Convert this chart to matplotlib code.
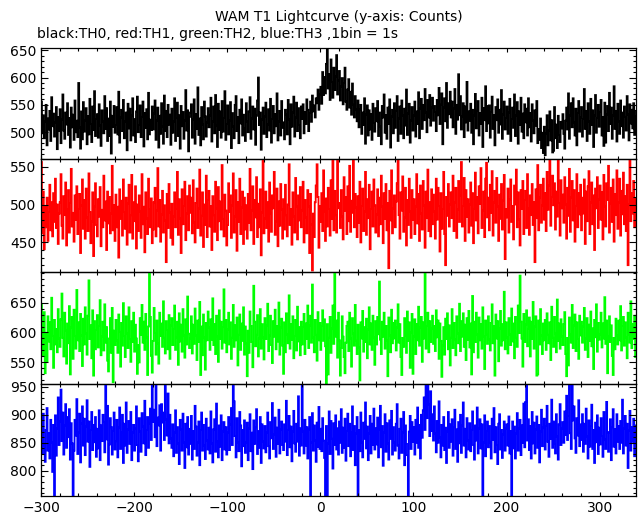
import matplotlib
matplotlib.use("Agg")
import matplotlib.pyplot as plt
import numpy as np
from matplotlib.ticker import MultipleLocator

# WAM T1 light curves, 1 s bins starting at t = -300 s
t_start = -300

th0 = np.array([
    556, 498, 531, 489, 520, 550, 476, 525, 505, 539, 484, 564, 511, 534, 492, 518, 546, 469, 528, 502,
    542, 480, 523, 569, 503, 488, 536, 514, 553, 495, 526, 472, 545, 509, 532, 486, 558, 500, 521, 491,
    590, 508, 470, 538, 487, 555, 501, 522, 544, 478, 529, 496, 561, 515, 482, 547, 504, 575, 493, 524,
    533, 490, 551, 512, 475, 540, 519, 498, 566, 506, 544, 484, 525, 493, 556, 461, 530, 510, 548, 499,
    513, 546, 496, 574, 481, 527, 541, 502, 559, 489, 520, 536, 467, 552, 507, 543, 485, 531, 562, 494,
    524, 482, 538, 565, 500, 513, 549, 491, 528, 556, 474, 535, 508, 542, 487, 572, 496, 523, 504, 547,
    505, 534, 558, 486, 521, 545, 472, 530, 497, 553, 510, 479, 567, 502, 539, 491, 550, 514, 532, 477,
    543, 499, 519, 562, 484, 526, 554, 493, 531, 470, 548, 511, 537, 488, 522, 577, 503, 540, 465, 528,
    536, 551, 490, 523, 560, 479, 533, 506, 582, 495, 525, 476, 546, 514, 487, 556, 529, 492, 518, 544,
    509, 531, 563, 483, 520, 547, 498, 568, 512, 473, 552, 504, 538, 490, 557, 501, 526, 575, 486, 515,
    549, 496, 522, 555, 471, 535, 510, 489, 550, 566, 502, 528, 480, 541, 516, 560, 494, 532, 507, 484,
    553, 519, 500, 538, 564, 488, 525, 547, 505, 543, 477, 530, 558, 600, 513, 536, 468, 523, 545, 497,
    529, 554, 491, 514, 542, 503, 561, 481, 524, 548, 498, 533, 511, 571, 485, 520, 539, 494, 557, 508,
    518, 487, 541, 532, 496, 559, 523, 478, 551, 510, 536, 565, 492, 527, 554, 502, 544, 513, 489, 547,
    524, 551, 498, 537, 515, 560, 541, 502, 535, 556, 519, 567, 538, 549, 527, 562, 553, 578, 541, 569,
    583, 552, 610, 568, 601, 571, 625, 652, 580, 606, 559, 633, 592, 563, 618, 577, 602, 641, 569, 595,
    612, 558, 583, 599, 551, 590, 618, 556, 541, 578, 597, 545, 574, 532, 589, 550, 527, 566, 541, 520,
    558, 509, 541, 550, 497, 536, 513, 562, 479, 532, 549, 494, 540, 505, 533, 486, 552, 517, 501, 544,
    520, 557, 493, 536, 511, 478, 548, 527, 569, 499, 531, 488, 545, 515, 560, 472, 529, 541, 498, 553,
    508, 539, 566, 484, 525, 547, 497, 558, 530, 489, 543, 512, 578, 495, 534, 552, 481, 521, 546, 503,
    531, 556, 492, 538, 515, 573, 489, 543, 561, 506, 550, 522, 579, 536, 500, 559, 527, 568, 512, 545,
    563, 521, 548, 537, 502, 559, 531, 581, 515, 550, 571, 478, 545, 562, 520, 590, 508, 553, 533, 574,
    527, 556, 509, 544, 579, 497, 550, 523, 606, 531, 566, 505, 529, 553, 491, 547, 518, 592, 503, 538,
    521, 552, 499, 541, 478, 530, 570, 507, 539, 557, 494, 535, 515, 563, 473, 544, 522, 584, 502, 548,
    516, 549, 490, 537, 565, 506, 531, 476, 546, 522, 560, 499, 541, 514, 577, 488, 533, 556, 505, 526,
    547, 497, 536, 561, 484, 524, 545, 508, 569, 493, 531, 555, 479, 538, 513, 563, 501, 534, 489, 551,
    518, 543, 494, 562, 509, 535, 483, 551, 522, 498, 540, 512, 557, 480, 506, 486, 525, 471, 499, 462,
    510, 458, 497, 531, 476, 503, 538, 485, 522, 463, 466, 546, 489, 514, 471, 530, 495, 482, 519, 507,
    533, 497, 470, 521, 545, 505, 571, 488, 530, 553, 509, 562, 518, 494, 543, 476, 535, 557, 501, 527,
    546, 492, 524, 579, 506, 539, 484, 553, 520, 497, 561, 513, 540, 473, 531, 568, 499, 526, 550, 510,
    537, 559, 494, 528, 475, 554, 481, 533, 548, 502, 572, 515, 545, 488, 530, 584, 506, 539, 483, 552,
    519, 497, 558, 511, 536, 490, 547, 528, 503, 566, 532, 485, 551, 516, 541, 507, 553, 495, 529, 538,
])

th1 = np.array([
    556, 462, 517, 441, 498, 470, 509, 452, 490, 526, 466, 503, 458, 515, 477, 534, 469, 500, 448, 488,
    503, 540, 472, 455, 511, 486, 529, 446, 493, 519, 463, 502, 547, 471, 489, 451, 512, 480, 524, 461,
    494, 514, 436, 499, 533, 468, 506, 455, 521, 483, 465, 541, 490, 449, 478, 516, 432, 497, 528, 473,
    458, 507, 484, 523, 445, 493, 470, 538, 479, 504, 440, 517, 475, 510, 462, 488, 551, 466, 499, 452,
    513, 470, 497, 430, 520, 481, 505, 459, 533, 490, 468, 509, 447, 501, 526, 463, 486, 539, 455, 503,
    478, 524, 442, 500, 465, 512, 491, 456, 540, 474, 497, 437, 516, 482, 461, 534, 494, 470, 508, 449,
    467, 503, 522, 458, 492, 548, 471, 506, 451, 487, 518, 463, 499, 479, 424, 514, 469, 527, 489, 456,
    501, 447, 484, 516, 470, 494, 543, 460, 507, 482, 436, 520, 474, 498, 530, 453, 488, 511, 466, 525,
    489, 509, 462, 532, 476, 450, 502, 521, 469, 495, 546, 459, 485, 516, 444, 500, 473, 538, 457, 506,
    518, 471, 498, 440, 511, 486, 464, 530, 495, 453, 523, 478, 504, 467, 552, 481, 458, 513, 492, 446,
    473, 528, 490, 512, 456, 499, 541, 463, 484, 519, 439, 503, 477, 534, 461, 496, 517, 448, 509, 467,
    499, 455, 514, 476, 547, 466, 492, 524, 448, 506, 483, 536, 457, 501, 470, 520, 433, 489, 558, 462,
    482, 517, 469, 503, 451, 529, 488, 464, 512, 495, 543, 460, 478, 521, 445, 504, 472, 527, 493, 455,
    507, 467, 526, 486, 458, 500, 553, 473, 494, 447, 516, 484, 463, 535, 497, 454, 512, 479, 523, 470,
    492, 530, 450, 506, 483, 462, 519, 497, 436, 514, 474, 413, 488, 457, 503, 525, 553, 510, 443, 498,
    477, 515, 465, 545, 490, 452, 508, 471, 522, 494, 459, 532, 481, 559, 466, 518, 486, 463, 558, 495,
    502, 469, 519, 484, 454, 536, 492, 510, 461, 524, 478, 551, 464, 505, 489, 558, 470, 514, 496, 457,
    511, 476, 530, 450, 498, 521, 465, 491, 543, 460, 507, 482, 526, 441, 494, 517, 471, 533, 499, 463,
    487, 520, 458, 509, 474, 538, 497, 449, 515, 481, 527, 466, 502, 416, 518, 479, 545, 462, 495, 512,
    470, 504, 528, 558, 486, 455, 516, 492, 537, 464, 483, 522, 446, 506, 473, 534, 491, 456, 519, 480,
    507, 461, 497, 540, 475, 514, 452, 525, 488, 467, 531, 499, 443, 517, 482, 546, 465, 503, 458, 520,
    474, 513, 491, 455, 534, 480, 522, 498, 438, 515, 468, 494, 543, 461, 420, 510, 485, 527, 471, 500,
    516, 482, 538, 465, 503, 522, 456, 493, 531, 477, 512, 556, 471, 498, 535, 452, 519, 484, 507, 463,
    500, 529, 472, 515, 449, 494, 542, 479, 510, 462, 524, 501, 548, 469, 492, 517, 457, 534, 555, 483,
    509, 466, 526, 489, 544, 459, 503, 518, 476, 535, 497, 452, 513, 481, 527, 467, 505, 539, 428, 494,
    483, 521, 463, 507, 533, 477, 498, 454, 525, 500, 546, 470, 516, 480, 446, 519, 494, 531, 461, 506,
    518, 469, 540, 495, 460, 512, 486, 527, 473, 503, 424, 520, 482, 552, 466, 509, 526, 476, 499, 534,
    480, 515, 465, 543, 493, 525, 560, 472, 510, 538, 499, 528, 467, 517, 484, 558, 502, 459, 532, 495,
    513, 476, 536, 500, 455, 522, 485, 547, 464, 509, 531, 479, 519, 451, 498, 540, 470, 515, 487, 526,
    466, 509, 488, 533, 448, 517, 478, 524, 544, 461, 503, 529, 474, 512, 440, 521, 495, 536, 469, 507,
    525, 480, 516, 454, 539, 497, 471, 528, 506, 551, 463, 501, 522, 477, 533, 451, 514, 486, 545, 468,
    503, 534, 459, 518, 487, 542, 474, 511, 465, 526, 420, 500, 560, 478, 515, 488, 531, 470, 508, 484,
])

th2 = np.array([
    646, 608, 561, 634, 532, 599, 552, 627, 585, 617, 572, 658, 594, 541, 621, 580, 606, 567, 639, 590,
    576, 622, 665, 591, 560, 633, 603, 548, 615, 582, 644, 530, 608, 626, 556, 638, 594, 573, 671, 587,
    617, 569, 631, 595, 544, 623, 580, 642, 598, 563, 628, 687, 589, 612, 557, 637, 528, 619, 572, 604,
    629, 575, 611, 654, 562, 593, 618, 570, 647, 583, 609, 553, 535, 590, 624, 566, 641, 517, 603, 579,
    621, 587, 566, 630, 601, 543, 616, 578, 649, 594, 559, 627, 598, 574, 642, 589, 551, 619, 584, 633,
    568, 613, 590, 531, 579, 550, 624, 596, 646, 583, 618, 571, 631, 592, 529, 610, 700, 626, 561, 533,
    586, 641, 599, 563, 620, 582, 548, 633, 594, 615, 576, 652, 591, 565, 619, 604, 572, 629, 556, 612,
    624, 579, 606, 645, 571, 592, 618, 546, 632, 585, 613, 568, 639, 595, 558, 622, 580, 660, 598, 574,
    590, 627, 565, 613, 581, 640, 595, 554, 620, 584, 651, 529, 610, 562, 630, 592, 538, 616, 587, 635,
    608, 571, 622, 588, 657, 579, 614, 564, 628, 593, 551, 637, 589, 618, 573, 609, 672, 583, 621, 567,
    605, 633, 580, 617, 556, 591, 646, 576, 612, 587, 625, 545, 596, 630, 571, 615, 586, 642, 563, 610,
    582, 527, 603, 566, 635, 611, 584, 542, 678, 618, 577, 596, 629, 560, 590, 639, 573, 614, 592, 555,
    624, 589, 612, 648, 569, 595, 628, 579, 549, 619, 593, 638, 572, 611, 585, 650, 563, 608, 623, 578,
    531, 617, 567, 632, 597, 582, 662, 573, 614, 588, 627, 557, 594, 621, 570, 643, 585, 609, 562, 618,
    580, 609, 631, 564, 615, 589, 645, 574, 612, 628, 583, 680, 592, 567, 621, 596, 553, 634, 587, 616,
    571, 611, 637, 586, 622, 577, 515, 614, 530, 591, 626, 566, 607, 645, 581, 700, 593, 620, 558, 633,
    587, 528, 574, 627, 593, 559, 532, 583, 611, 618, 569, 633, 590, 543, 624, 598, 578, 646, 586, 564,
    613, 575, 520, 617, 590, 636, 568, 609, 584, 623, 557, 605, 642, 580, 615, 571, 628, 592, 546, 619,
    580, 626, 597, 685, 588, 564, 618, 593, 633, 573, 611, 587, 527, 625, 595, 567, 638, 582, 616, 590,
    620, 570, 608, 647, 583, 614, 559, 529, 591, 576, 624, 595, 566, 635, 586, 617, 541, 600, 631, 531,
    593, 622, 564, 614, 587, 643, 578, 608, 626, 551, 617, 590, 698, 573, 611, 633, 567, 619, 584, 607,
    628, 581, 611, 569, 637, 592, 620, 556, 615, 586, 526, 578, 609, 563, 623, 589, 632, 572, 612, 545,
    591, 639, 574, 616, 588, 562, 627, 598, 582, 648, 569, 619, 593, 632, 576, 613, 554, 624, 588, 636,
    575, 615, 530, 661, 567, 618, 584, 633, 597, 558, 625, 587, 614, 573, 642, 593, 539, 620, 596, 581,
    627, 588, 570, 616, 647, 582, 611, 528, 630, 590, 619, 552, 607, 636, 578, 614, 587, 668, 572, 617,
    592, 565, 624, 597, 579, 640, 585, 615, 557, 626, 591, 576, 645, 599, 695, 618, 590, 543, 631, 584,
    613, 637, 577, 606, 625, 560, 618, 589, 651, 573, 610, 627, 528, 530, 620, 580, 639, 595, 564, 615,
    587, 621, 571, 632, 596, 582, 617, 554, 643, 591, 576, 626, 598, 567, 655, 586, 615, 573, 622, 593,
    579, 614, 634, 564, 527, 591, 545, 625, 597, 583, 646, 574, 612, 630, 569, 617, 589, 556, 628, 595,
    618, 583, 610, 641, 571, 590, 624, 559, 613, 586, 635, 577, 607, 539, 621, 592, 647, 568, 616, 588,
    597, 633, 575, 615, 590, 659, 581, 620, 532, 594, 627, 584, 612, 561, 529, 591, 572, 623, 595, 580,
    620, 587, 644, 570, 611, 626, 578, 617, 592, 557, 633, 596, 583, 652, 574, 614, 589, 628, 559, 610,
])

th3 = np.array([
    878, 831, 902, 845, 816, 873, 912, 836, 867, 822, 891, 850, 798, 882, 755, 899, 827, 875, 931, 846,
    888, 945, 853, 904, 829, 881, 919, 841, 896, 860, 910, 820, 885, 849, 755, 836, 891, 863, 928, 830,
    869, 902, 815, 884, 915, 845, 893, 828, 879, 926, 852, 888, 807, 873, 905, 837, 882, 851, 896, 825,
    875, 840, 908, 819, 881, 853, 900, 887, 833, 955, 856, 916, 811, 847, 894, 878, 829, 871, 904, 838,
    853, 891, 824, 877, 913, 839, 869, 900, 814, 884, 845, 922, 832, 874, 889, 848, 905, 819, 868, 882,
    836, 876, 915, 846, 817, 894, 870, 834, 903, 879, 849, 925, 828, 873, 896, 841, 884, 911, 855, 955,
    887, 909, 860, 955, 844, 895, 881, 917, 836, 919, 886, 904, 855, 955, 891, 863, 938, 849, 900, 858,
    841, 883, 826, 869, 908, 832, 878, 849, 812, 891, 874, 836, 902, 851, 805, 884, 842, 896, 829, 875,
    848, 898, 820, 871, 839, 916, 879, 827, 851, 888, 810, 873, 904, 836, 882, 845, 821, 893, 854, 838,
    877, 831, 906, 849, 815, 874, 892, 834, 920, 852, 824, 881, 843, 899, 819, 870, 887, 838, 878, 829,
    869, 896, 837, 883, 912, 846, 955, 924, 862, 824, 894, 851, 835, 905, 881, 808, 873, 844, 890, 832,
    850, 886, 819, 875, 901, 835, 868, 803, 890, 848, 878, 910, 830, 871, 841, 896, 814, 883, 852, 840,
    880, 833, 869, 904, 844, 822, 887, 858, 921, 839, 865, 895, 825, 877, 848, 909, 831, 874, 888, 846,
    837, 883, 852, 925, 828, 873, 898, 842, 879, 817, 870, 907, 849, 834, 884, 852, 933, 827, 876, 845,
    955, 870, 831, 891, 845, 878, 822, 874, 896, 755, 851, 903, 836, 881, 854, 816, 886, 843, 914, 839,
    875, 835, 894, 854, 823, 755, 880, 755, 849, 906, 830, 889, 857, 804, 885, 846, 899, 838, 876, 829,
    888, 850, 910, 832, 877, 841, 893, 818, 871, 902, 844, 884, 826, 868, 915, 837, 880, 810, 866, 896,
    755, 873, 835, 904, 851, 824, 886, 857, 922, 840, 879, 819, 867, 898, 831, 884, 846, 911, 838, 876,
    847, 895, 824, 873, 916, 842, 880, 809, 869, 901, 834, 885, 849, 820, 890, 857, 907, 829, 878, 851,
    836, 884, 919, 845, 822, 875, 893, 832, 868, 905, 810, 881, 848, 828, 755, 870, 898, 839, 887, 852,
    878, 829, 891, 850, 913, 841, 882, 822, 900, 859, 908, 931, 873, 955, 894, 955, 919, 862, 942, 871,
    901, 854, 915, 866, 833, 889, 850, 924, 859, 824, 882, 845, 896, 837, 877, 814, 870, 905, 841, 883,
    852, 892, 827, 878, 909, 839, 874, 816, 887, 849, 900, 832, 881, 922, 845, 875, 824, 894, 854, 838,
    885, 835, 873, 906, 846, 820, 881, 854, 913, 831, 876, 892, 840, 883, 755, 851, 899, 826, 871, 888,
    842, 880, 851, 822, 893, 855, 912, 833, 878, 846, 812, 884, 901, 838, 873, 823, 865, 888, 836, 876,
    883, 845, 897, 831, 871, 755, 888, 840, 879, 822, 866, 903, 836, 875, 891, 828, 881, 850, 920, 842,
    923, 955, 854, 892, 837, 880, 822, 905, 849, 886, 831, 874, 897, 841, 882, 815, 870, 909, 844, 877,
    893, 838, 880, 916, 852, 825, 884, 857, 927, 841, 888, 848, 831, 901, 861, 820, 883, 919, 846, 876,
    887, 850, 906, 864, 934, 855, 898, 955, 867, 839, 955, 890, 915, 858, 832, 894, 863, 926, 844, 883,
    855, 901, 834, 884, 848, 911, 861, 822, 890, 843, 880, 918, 839, 873, 814, 886, 851, 899, 830, 877,
    847, 894, 862, 825, 905, 856, 839, 923, 868, 834, 869, 892, 819, 878, 910, 843, 874, 831, 901, 852,
    880, 839, 889, 850, 927, 831, 875, 898, 845, 884, 805, 872, 907, 836, 878, 852, 893, 826, 881, 855,
])

series = [th0, th1, th2, th3]
colors = ["#000000", "#ff0000", "#00ff00", "#0000ff"]
ylims = [(451, 654), (411, 560), (514, 701), (755, 955)]
yticks = [[500, 550, 600, 650], [450, 500, 550], [550, 600, 650], [800, 850, 900, 950]]

edges = np.arange(t_start, t_start + len(th0) + 1)

plt.rcParams["font.family"] = "DejaVu Sans"
fig = plt.figure(figsize=(6.43, 5.15), dpi=100)

# panel edges in pixels from the top of the image
left, right = 41 / 643, 636 / 643
bounds = [48, 159, 272, 384, 496]

for i in range(4):
    top = 1 - bounds[i] / 515
    bot = 1 - bounds[i + 1] / 515
    ax = fig.add_axes([left, bot, right - left, top - bot])
    ax.stairs(series[i], edges, baseline=None, color=colors[i], linewidth=1.3)
    ax.set_xlim(-300, 339)
    ax.set_ylim(*ylims[i])
    ax.set_yticks(yticks[i])
    ax.xaxis.set_major_locator(MultipleLocator(100))
    ax.xaxis.set_minor_locator(MultipleLocator(20))
    ax.yaxis.set_minor_locator(MultipleLocator(10))
    ax.tick_params(which="both", direction="in", top=True, right=True, width=0.8, labelsize=10)
    ax.tick_params(axis="x", which="major", length=3)
    ax.tick_params(axis="x", which="minor", length=2)
    ax.tick_params(axis="y", which="major", length=5)
    ax.tick_params(axis="y", which="minor", length=2.5)
    for s in ax.spines.values():
        s.set_linewidth(0.9)
    if i < 3:
        ax.tick_params(axis="x", labelbottom=False)
    ax.patch.set_alpha(0)

fig.text((41 + 636) / 2 / 643, 1 - 21 / 515, "WAM T1 Lightcurve (y-axis: Counts)",
         ha="center", va="baseline", fontsize=10)
fig.text(37 / 643, 1 - 38 / 515, "black:TH0, red:TH1, green:TH2, blue:TH3 ,1bin = 1s",
         ha="left", va="baseline", fontsize=10)

fig.savefig("out.png", dpi=100)
